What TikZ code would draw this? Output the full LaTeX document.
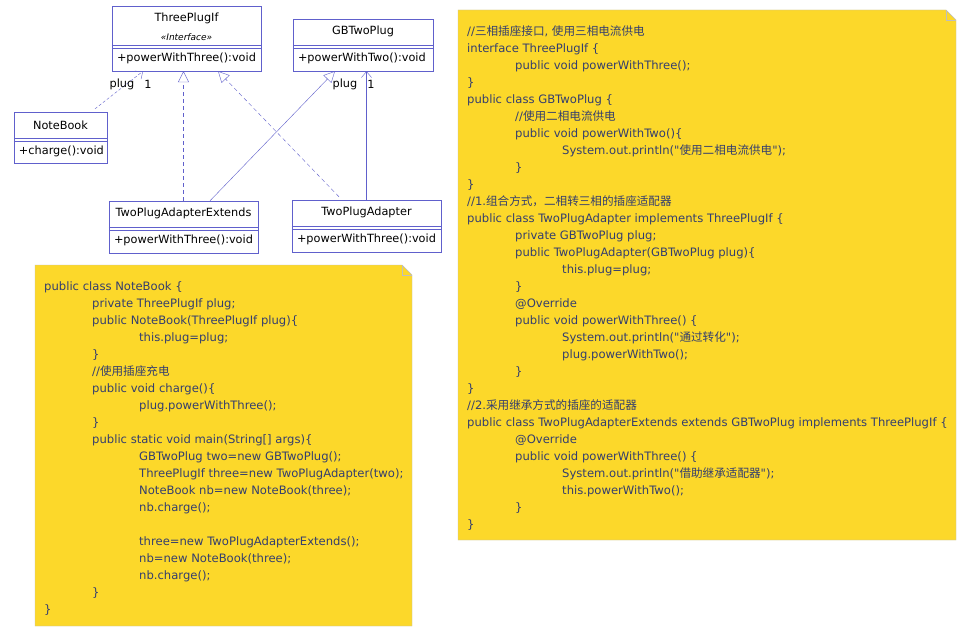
\documentclass[tikz,border=0pt]{standalone}
\usepackage{fontspec}
\setmainfont{DejaVu Sans}[Ligatures=TeXOff]
\newfontfamily\cjk{Noto Sans CJK SC}
\usepackage{tikz}
\usetikzlibrary{arrows.meta,positioning}

\definecolor{umlline}{RGB}{96,96,204}
\definecolor{notefill}{RGB}{252,216,42}
\definecolor{noteedge}{RGB}{190,190,190}
\definecolor{codetext}{RGB}{52,62,110}

\newcommand{\indone}{\hspace*{48pt}}
\newcommand{\indtwo}{\hspace*{95pt}}

\begin{document}
\begin{tikzpicture}[x=1pt,y=-1pt,
    every node/.style={font=\fontsize{11.3}{13}\selectfont},
    cls/.style={draw=umlline,rectangle,fill=white,inner sep=0pt},
    clsname/.style={inner sep=0pt},
    stereo/.style={inner sep=0pt,font=\fontsize{9}{10}\selectfont\itshape},
    method/.style={inner sep=0pt,anchor=west},
    sep/.style={draw=umlline},
    mult/.style={inner sep=0pt},
    uses/.style={draw=umlline,dash pattern=on 3pt off 2pt,-{Straight Barb[length=6pt,width=10pt]}},
    assoc/.style={draw=umlline,-{Straight Barb[length=6pt,width=10pt]}},
    realize/.style={draw=umlline,dash pattern=on 4pt off 3pt,-{Triangle[open,length=11pt,width=11pt]}},
    inherit/.style={draw=umlline,-{Triangle[open,length=11pt,width=11pt]}},
    note/.style={draw=noteedge,fill=notefill},
    code/.style={anchor=north west,align=left,inner sep=0pt,text=codetext,font=\fontsize{11.6}{17}\selectfont}
    ]
    \useasboundingbox[fill=white] (0,0) rectangle (961,631);

    % classes
    \node[cls,minimum width=149pt,minimum height=65pt] (tp) at (186.5,38.5) {};
    \node[clsname] (tpname) at ([yshift=-13pt]tp.north) {ThreePlugIf};
    \node[stereo] (tpstereo) at ([yshift=-31pt]tp.north) {«Interface»};
    \draw[sep] ([yshift=-39pt]tp.north west) -- ([yshift=-39pt]tp.north east)
               ([yshift=-42pt]tp.north west) -- ([yshift=-42pt]tp.north east);
    \node[method] (tpop) at ([xshift=5pt,yshift=-53pt]tp.north west) {+powerWithThree():void};

    \node[cls,minimum width=140pt,minimum height=52pt] (gb) at (363,45) {};
    \node[clsname] (gbname) at ([yshift=-13pt]gb.north) {GBTwoPlug};
    \draw[sep] ([yshift=-26pt]gb.north west) -- ([yshift=-26pt]gb.north east)
               ([yshift=-29pt]gb.north west) -- ([yshift=-29pt]gb.north east);
    \node[method] (gbop) at ([xshift=5pt,yshift=-40pt]gb.north west) {+powerWithTwo():void};

    \node[cls,minimum width=93pt,minimum height=51pt] (nb) at (60.5,137.5) {};
    \node[clsname] (nbname) at ([yshift=-13pt]nb.north) {NoteBook};
    \draw[sep] ([yshift=-26pt]nb.north west) -- ([yshift=-26pt]nb.north east)
               ([yshift=-29pt]nb.north west) -- ([yshift=-29pt]nb.north east);
    \node[method] (nbop) at ([xshift=5pt,yshift=-40pt]nb.north west) {+charge():void};

    \node[cls,minimum width=149pt,minimum height=52pt] (tpe) at (183.5,227) {};
    \node[clsname] (tpename) at ([yshift=-13pt]tpe.north) {TwoPlugAdapterExtends};
    \draw[sep] ([yshift=-26pt]tpe.north west) -- ([yshift=-26pt]tpe.north east)
               ([yshift=-29pt]tpe.north west) -- ([yshift=-29pt]tpe.north east);
    \node[method] (tpeop) at ([xshift=5pt,yshift=-40pt]tpe.north west) {+powerWithThree():void};

    \node[cls,minimum width=149pt,minimum height=52pt] (tpa) at (366.5,226) {};
    \node[clsname] (tpaname) at ([yshift=-13pt]tpa.north) {TwoPlugAdapter};
    \draw[sep] ([yshift=-26pt]tpa.north west) -- ([yshift=-26pt]tpa.north east)
               ([yshift=-29pt]tpa.north west) -- ([yshift=-29pt]tpa.north east);
    \node[method] (tpaop) at ([xshift=5pt,yshift=-40pt]tpa.north west) {+powerWithThree():void};

    % relations
    \draw[uses] ([xshift=34.5pt,yshift=3pt]nb.north) -- ([xshift=-43.5pt]tp.south);
    \draw[realize] (tpe.north) -- (tpe.north |- tp.south);
    \draw[realize] ([xshift=-27.5pt,yshift=3pt]tpa.north) -- ([xshift=31.5pt]tp.south);
    \draw[inherit] ([xshift=26.5pt]tpe.north) -- ([xshift=-28pt]gb.south);
    \draw[assoc] (tpa.north) -- (tpa.north |- gb.south);
    \node[mult] (nbrole) at (122,84) {plug};
    \node[mult] (nbmult) at (148,84) {1};
    \node[mult] (tparole) at (345,84) {plug};
    \node[mult] (tpamult) at (371,84) {1};

    % notes
    \draw[note] (35,265) -- (402,265) -- (412,275) -- (412,626) -- (35,626) -- cycle;
    \draw[noteedge] (402,265) -- (402,275) -- (412,275);
    \node[code] (nbcode) at (44,281) {%
public class NoteBook \{\\
\indone private ThreePlugIf plug;\\
\indone public NoteBook(ThreePlugIf plug)\{\\
\indtwo this.plug=plug;\\
\indone \}\\
\indone //{\cjk 使用插座充电}\\
\indone public void charge()\{\\
\indtwo plug.powerWithThree();\\
\indone \}\\
\indone public static void main(String[] args)\{\\
\indtwo GBTwoPlug two=new GBTwoPlug();\\
\indtwo ThreePlugIf three=new TwoPlugAdapter(two);\\
\indtwo NoteBook nb=new NoteBook(three);\\
\indtwo nb.charge();\\
\mbox{}\\
\indtwo three=new TwoPlugAdapterExtends();\\
\indtwo nb=new NoteBook(three);\\
\indtwo nb.charge();\\
\indone \}\\
\}};

    \draw[note] (458,10) -- (946,10) -- (956,20) -- (956,540) -- (458,540) -- cycle;
    \draw[noteedge] (946,10) -- (946,20) -- (956,20);
    \node[code] (adcode) at (467,25) {%
//{\cjk 三相插座接口}, {\cjk 使用三相电流供电}\\
interface ThreePlugIf \{\\
\indone public void powerWithThree();\\
\}\\
public class GBTwoPlug \{\\
\indone //{\cjk 使用二相电流供电}\\
\indone public void powerWithTwo()\{\\
\indtwo System.out.println("{\cjk 使用二相电流供电}");\\
\indone \}\\
\}\\
//1.{\cjk 组合方式，二相转三相的插座适配器}\\
public class TwoPlugAdapter implements ThreePlugIf \{\\
\indone private GBTwoPlug plug;\\
\indone public TwoPlugAdapter(GBTwoPlug plug)\{\\
\indtwo this.plug=plug;\\
\indone \}\\
\indone @Override\\
\indone public void powerWithThree() \{\\
\indtwo System.out.println("{\cjk 通过转化}");\\
\indtwo plug.powerWithTwo();\\
\indone \}\\
\}\\
//2.{\cjk 采用继承方式的插座的适配器}\\
public class TwoPlugAdapterExtends extends GBTwoPlug implements ThreePlugIf \{\\
\indone @Override\\
\indone public void powerWithThree() \{\\
\indtwo System.out.println("{\cjk 借助继承适配器}");\\
\indtwo this.powerWithTwo();\\
\indone \}\\
\}};
\end{tikzpicture}
\end{document}
